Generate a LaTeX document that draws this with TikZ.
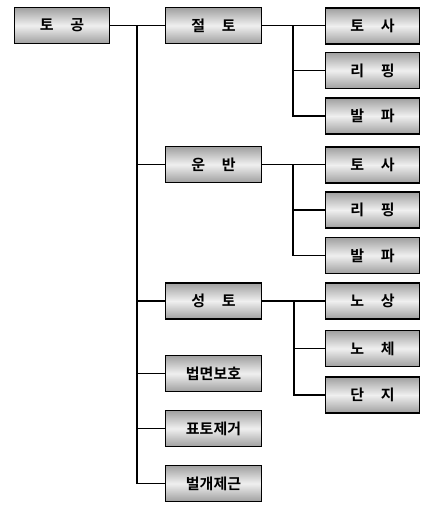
\documentclass[tikz,border=0pt]{standalone}
\usepackage{fontspec}
\newfontfamily\kr{Noto Sans CJK KR}[UprightFont=* Bold]
\begin{document}
\begin{tikzpicture}[x=1pt,y=1pt,
  box/.style={rectangle, draw=black, line width=1.6pt,
    top color=gray!75, bottom color=gray!75, middle color=gray!12,
    minimum height=36pt, inner sep=0pt, font=\kr\fontsize{15}{15}\selectfont},
  lbox/.style={box, minimum width=95pt},
  mbox/.style={box, minimum width=96pt},
  rbox/.style={box, minimum width=94pt},
  conn/.style={line width=1.2pt, black}]
\useasboundingbox (0,0) rectangle (422,-505);
% left
\node[lbox] (tg) at (62,-25.5) {토\hspace{1.1em}공};
% middle
\node[mbox] (jt) at (213.5,-25.5) {절\hspace{1.1em}토};
\node[mbox] (ub) at (213.5,-164.5) {운\hspace{1.1em}반};
\node[mbox] (st) at (213.5,-301) {성\hspace{1.1em}토};
\node[mbox] (bm) at (213.5,-373.5) {법면보호};
\node[mbox] (pt) at (213.5,-428.5) {표토제거};
\node[mbox] (bg) at (213.5,-483.5) {벌개제근};
% right
\node[rbox] (a1) at (372.5,-26) {토\hspace{1.1em}사};
\node[rbox] (a2) at (372.5,-70.5) {리\hspace{1.1em}핑};
\node[rbox] (a3) at (372.5,-116) {발\hspace{1.1em}파};
\node[rbox] (b1) at (372.5,-165) {토\hspace{1.1em}사};
\node[rbox] (b2) at (372.5,-210) {리\hspace{1.1em}핑};
\node[rbox] (b3) at (372.5,-255.5) {발\hspace{1.1em}파};
\node[rbox] (c1) at (372.5,-301) {노\hspace{1.1em}상};
\node[rbox] (c2) at (372.5,-348.5) {노\hspace{1.1em}체};
\node[rbox] (c3) at (372.5,-395) {단\hspace{1.1em}지};
% connectors
\coordinate (t0) at (137,-25.5);
\draw[conn] (tg.east) -- (jt.west);
\draw[conn] (t0) |- (ub.west);
\draw[conn] (t0) |- (st.west);
\draw[conn] (t0) |- (bm.west);
\draw[conn] (t0) |- (pt.west);
\draw[conn] (t0) |- (bg.west);
\coordinate (s1) at (293,-25.5);
\draw[conn] (jt.east) -- (a1.west |- jt.east);
\draw[conn] (s1) |- (a2.west);
\draw[conn] (s1) |- (a3.west);
\coordinate (s2) at (293,-164.5);
\draw[conn] (ub.east) -- (b1.west |- ub.east);
\draw[conn] (s2) |- (b2.west);
\draw[conn] (s2) |- (b3.west);
\coordinate (s3) at (294,-301);
\draw[conn] (st.east) -- (c1.west);
\draw[conn] (s3) |- (c2.west);
\draw[conn] (s3) |- (c3.west);
\end{tikzpicture}
\end{document}
